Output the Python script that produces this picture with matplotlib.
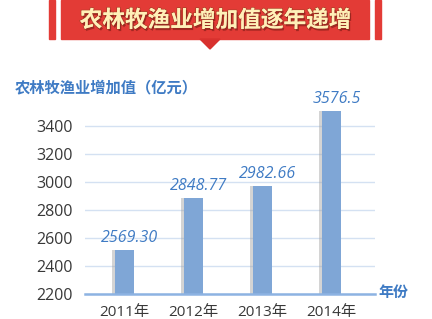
import matplotlib.pyplot as plt
import matplotlib.patheffects as pe
from matplotlib.patches import Rectangle, Polygon

plt.rcParams['font.family'] = ['Open Sans', 'Noto Sans CJK SC', 'DejaVu Sans']

# data
years = ['2011年', '2012年', '2013年', '2014年']
bar_heights = [2510, 2885, 2968, 3510]
value_labels = ['2569.30', '2848.77', '2982.66', '3576.5']
y_ticks = [2200, 2400, 2600, 2800, 3000, 3200, 3400]

blue_text = '#3f7bc4'
bar_color = '#7fa6d6'

fig = plt.figure(figsize=(4.32, 3.19), dpi=100)
W, H = 432, 319

# red banner on top (pixel coords -> figure fraction)
def px_rect(x0, y0, x1, y1, color):
    fig.patches.append(Rectangle((x0 / W, 1 - y1 / H), (x1 - x0) / W, (y1 - y0) / H,
                                 transform=fig.transFigure, color=color, zorder=0))

px_rect(49, 0, 55, 39, '#e33b36')
px_rect(375, 0, 381, 39, '#e33b36')
px_rect(61, 0, 369, 39, '#e33b36')
fig.patches.append(Polygon([(200 / W, 1 - 39 / H), (220 / W, 1 - 39 / H), (210 / W, 1 - 49 / H)],
                           closed=True, transform=fig.transFigure, color='#d8312e', zorder=0))
fig.text(215.5 / W, 1 - 21 / H, '农林牧渔业增加值逐年递增', ha='center', va='center',
         fontsize=16.3, fontweight='bold', color='#fff0b8',
         path_effects=[pe.withStroke(linewidth=1.2, foreground='#b0402a'),
                       pe.SimplePatchShadow(offset=(1, -1.5), shadow_rgbFace='#8a1f1a', alpha=0.7),
                       pe.Normal()])

fig.text(15 / W, 1 - 88 / H, '农林牧渔业增加值（亿元）', ha='left', va='center',
         fontsize=11, fontweight='bold', color=blue_text)

ax = fig.add_axes([85 / W, 1 - 293.5 / H, 290 / W, (293.5 - 98) / H])
x = range(len(years))
bars = ax.bar(x, bar_heights, width=0.275, color=bar_color, zorder=3,
              path_effects=[pe.SimplePatchShadow(offset=(-2, 0), shadow_rgbFace='#a0a0a0', alpha=0.45),
                            pe.Normal()])
for xi, h, lab in zip(x, bar_heights, value_labels):
    ax.annotate(lab, (xi, h), xytext=(5, 12), textcoords='offset pixels',
                ha='center', va='center', fontsize=11.5, style='italic', color=blue_text)

ax.set_xlim(-0.572, 3.63)
ax.set_ylim(2200, 3600)
ax.set_yticks(y_ticks)
ax.set_xticks(list(x))
ax.set_xticklabels(years)
ax.tick_params(axis='both', length=0, labelsize=11, labelcolor='#383838')
ax.tick_params(axis='y', pad=9, labelsize=11.5)
ax.tick_params(axis='x', pad=8)
ax.grid(axis='y', color='#d4e1f2', linewidth=1, zorder=0)
for s in ['top', 'right', 'left']:
    ax.spines[s].set_visible(False)
ax.spines['bottom'].set_color('#8db3e2')
ax.spines['bottom'].set_linewidth(1.8)
ax.spines['bottom'].set_zorder(4)

fig.text(378 / W, 1 - 293 / H, '年份', ha='left', va='center',
         fontsize=10.8, fontweight='bold', color=blue_text)

fig.savefig('out.png', dpi=100)
